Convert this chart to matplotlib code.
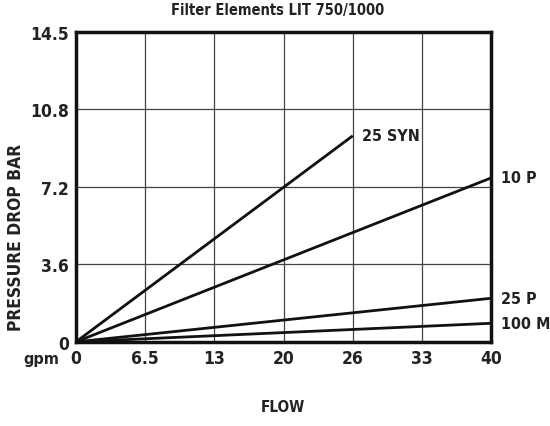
import matplotlib
matplotlib.use("Agg")
import matplotlib.pyplot as plt

title = "Filter Elements LIT 750/1000"
series_names = ["25 SYN", "10 P", "25 P", "100 M"]
flow_start = [0, 0, 0, 0]
flow_end = [26.67, 40, 40, 40]
dp_start = [0, 0, 0, 0]
dp_end = [9.64, 7.67, 2.04, 0.87]
x_ticks = [0, 6.667, 13.333, 20, 26.667, 33.333, 40]
x_labels = ["0", "6.5", "13", "20", "26", "33", "40"]
y_ticks = [0, 3.625, 7.25, 10.875, 14.5]
y_labels = ["0", "3.6", "7.2", "10.8", "14.5"]

plt.rcParams["font.family"] = ["DejaVu Sans"]
plt.rcParams["font.stretch"] = "condensed"
TXT = dict(fontweight="bold", color="#222222", fontstretch="condensed")

fig = plt.figure(figsize=(5.5, 4.27), dpi=100)
ax = fig.add_axes([0.138, 0.197, 0.755, 0.726])

for name, x0, x1, y0, y1 in zip(series_names, flow_start, flow_end, dp_start, dp_end):
    ax.plot([x0, x1], [y0, y1], color="#111111", lw=2.0, solid_capstyle="butt", zorder=3)
    ax.annotate(name, xy=(x1, y1), xytext=(7, 0), textcoords="offset points",
                ha="left", va="center", fontsize=11.5, **TXT)

ax.set_xlim(0, 40)
ax.set_ylim(0, 14.5)
ax.set_xticks(x_ticks)
ax.set_xticklabels(x_labels)
ax.set_yticks(y_ticks)
ax.set_yticklabels(y_labels)
ax.tick_params(length=0, labelsize=12.5, pad=5)
for lab in ax.get_xticklabels() + ax.get_yticklabels():
    lab.set_fontweight("bold")
    lab.set_fontstretch("condensed")
    lab.set_color("#222222")
ax.grid(True, color="#444444", lw=0.9)
ax.set_axisbelow(True)
for sp in ax.spines.values():
    sp.set_linewidth(2.5)
    sp.set_color("#111111")

fig.text(0.505, 0.975, title, ha="center", va="center", fontsize=10.5, **TXT)
fig.text(0.515, 0.045, "FLOW", ha="center", va="center", fontsize=11, **TXT)
fig.text(0.03, 0.445, "PRESSURE DROP BAR", ha="center", va="center", rotation=90, fontsize=12.5, **TXT)
fig.text(0.075, 0.158, "gpm", ha="center", va="center", fontsize=11.5, **TXT)

fig.savefig("out.png", dpi=100)
